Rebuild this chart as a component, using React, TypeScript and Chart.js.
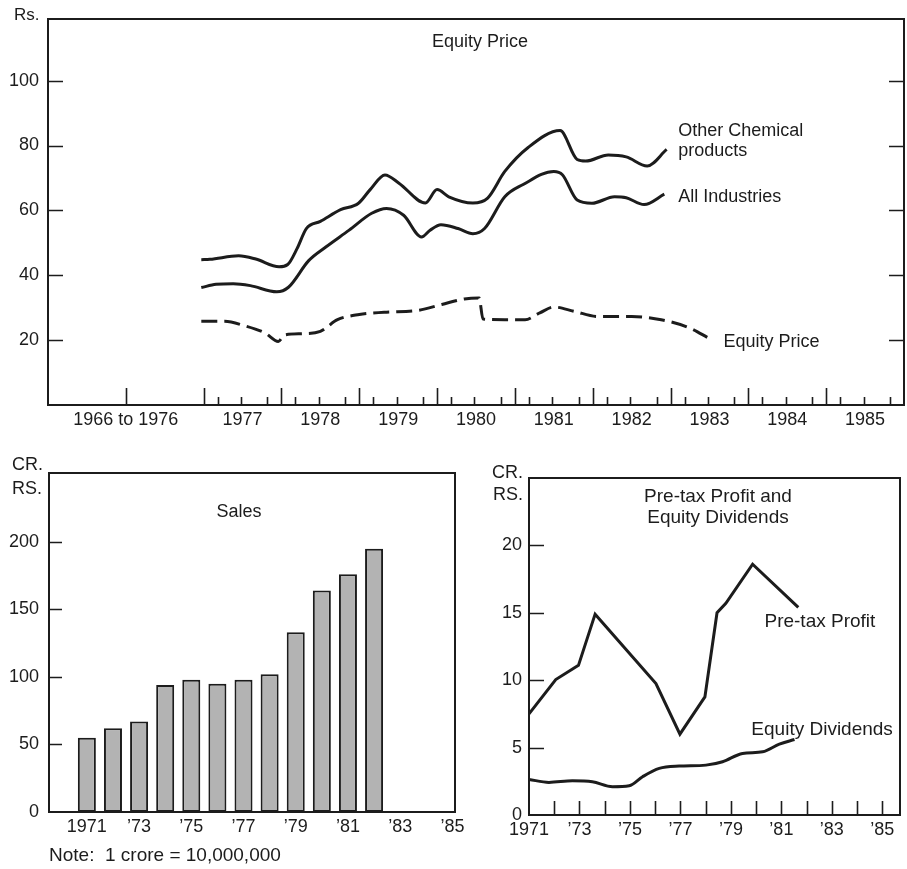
import React, { useEffect, useRef } from 'react';
import { Chart, registerables } from 'chart.js';

Chart.register(...registerables);

const FONT = "'Liberation Sans', Arial, Helvetica, sans-serif";
const INK = '#1c1c1c';

// ---------- Top chart: Equity Price (x in fractional years) ----------
const otherChemT = [1976.97, 1977.08, 1977.45, 1977.67, 1977.97, 1978.08, 1978.2, 1978.32, 1978.5, 1978.76, 1978.99, 1979.14, 1979.33, 1979.51, 1979.85, 1980.0, 1980.15, 1980.46, 1980.65, 1980.87, 1981.17, 1981.58, 1981.8, 1981.91, 1982.2, 1982.43, 1982.7, 1982.95];
const otherChemV = [44.8, 44.9, 46.0, 45.0, 42.6, 43.3, 48.2, 54.4, 56.6, 60.2, 62.2, 66.4, 70.9, 68.4, 62.3, 66.4, 64.2, 62.3, 63.8, 72.0, 79.4, 84.6, 75.7, 75.2, 77.1, 76.5, 73.7, 78.8];
const allIndT = [1976.97, 1977.16, 1977.38, 1977.6, 1977.94, 1978.09, 1978.35, 1978.57, 1978.87, 1979.16, 1979.35, 1979.57, 1979.8, 1979.91, 1980.05, 1980.27, 1980.46, 1980.61, 1980.87, 1981.1, 1981.5, 1981.61, 1981.8, 1981.99, 1982.28, 1982.43, 1982.66, 1982.92];
const allIndV = [36.2, 37.2, 37.4, 36.8, 34.9, 36.3, 44.5, 48.7, 53.9, 59.1, 60.6, 58.5, 51.8, 53.9, 55.6, 54.4, 52.8, 54.4, 64.2, 67.9, 72.0, 71.0, 63.2, 62.2, 64.2, 63.9, 61.8, 65.0];
const eqPriceT = [1976.97, 1977.27, 1977.53, 1977.79, 1977.96, 1978.04, 1978.27, 1978.5, 1978.72, 1979.0, 1979.32, 1979.76, 1980.06, 1980.35, 1980.54, 1980.59, 1980.87, 1981.13, 1981.32, 1981.5, 1981.76, 1982.06, 1982.5, 1982.88, 1983.25, 1983.49];
const eqPriceV = [25.8, 25.8, 24.4, 22.2, 19.6, 21.6, 22.0, 22.7, 26.3, 27.9, 28.6, 29.2, 31.0, 32.7, 33.0, 26.5, 26.3, 26.3, 28.4, 30.2, 28.9, 27.3, 27.3, 26.3, 23.7, 20.6];
const topXTickValues = [1976, 1977.5, 1978.5, 1979.5, 1980.5, 1981.5, 1982.5, 1983.5, 1984.5, 1985.5];
const topXTickLabels = ['1966 to 1976', '1977', '1978', '1979', '1980', '1981', '1982', '1983', '1984', '1985'];
const topYTicks = [20, 40, 60, 80, 100];
const topMajorTicks = [1976, 1977, 1978, 1979, 1980, 1981, 1982, 1983, 1984, 1985];
const topMinorOffsets = [0.18, 0.48, 0.82];

// ---------- Bottom-left: Sales ----------
const salesYears = [1971, 1972, 1973, 1974, 1975, 1976, 1977, 1978, 1979, 1980, 1981, 1982];
const salesValues = [55, 62, 67, 94, 98, 95, 98, 102, 133, 164, 176, 195];
const bottomXTickValues = [1971, 1973, 1975, 1977, 1979, 1981, 1983, 1985];
const bottomXTickLabels = ['1971', '\u201973', '\u201975', '\u201977', '\u201979', '\u201981', '\u201983', '\u201985'];
const salesYTicks = [0, 50, 100, 150, 200];

// ---------- Bottom-right: Pre-tax Profit and Equity Dividends ----------
const profitT = [1971.0, 1972.06, 1972.96, 1973.62, 1976.03, 1976.98, 1977.97, 1978.45, 1978.8, 1979.86, 1981.67];
const profitV = [7.5, 10.05, 11.1, 14.9, 9.75, 6.0, 8.76, 15.0, 15.7, 18.6, 15.4];
const dividT = [1971.0, 1971.79, 1972.72, 1973.51, 1974.31, 1974.97, 1975.5, 1976.16, 1976.95, 1978.01, 1978.67, 1979.46, 1980.26, 1980.92, 1981.52];
const dividV = [2.64, 2.42, 2.54, 2.47, 2.1, 2.17, 2.84, 3.46, 3.63, 3.7, 3.95, 4.57, 4.69, 5.26, 5.6];
const profitYTicks = [0, 5, 10, 15, 20];
const profitXMarks = [1972, 1973, 1974, 1975, 1976, 1977, 1978, 1979, 1980, 1981, 1982, 1983, 1984, 1985];

const zip = (xs: number[], ys: number[]) => xs.map((x, i) => ({ x, y: ys[i] }));
const font = (size: number) => ({ family: FONT, size, weight: 'normal' as const, lineHeight: 1.2 });

type TextItem = { text: string; x: number; y: number; align?: CanvasTextAlign; size?: number; data?: boolean };

function decorPlugin(opts: {
  yTicks: number[]; yLen: number; rightTicks?: boolean;
  xMarks: { v: number; len: number }[];
  texts: TextItem[];
}) {
  return {
    id: 'decor',
    afterDraw(chart: any) {
      const { ctx, chartArea: a, scales } = chart;
      const xs = scales.x, ys = scales.y;
      ctx.save();
      ctx.strokeStyle = INK;
      ctx.lineWidth = 2;
      ctx.strokeRect(a.left, a.top, a.right - a.left, a.bottom - a.top);
      ctx.lineWidth = 1.6;
      ctx.beginPath();
      for (const v of opts.yTicks) {
        const py = Math.round(ys.getPixelForValue(v)) + 0.5;
        ctx.moveTo(a.left, py); ctx.lineTo(a.left + opts.yLen, py);
        if (opts.rightTicks) { ctx.moveTo(a.right, py); ctx.lineTo(a.right - opts.yLen, py); }
      }
      for (const m of opts.xMarks) {
        const px = Math.round(xs.getPixelForValue(m.v)) + 0.5;
        ctx.moveTo(px, a.bottom); ctx.lineTo(px, a.bottom - m.len);
      }
      ctx.stroke();
      ctx.fillStyle = INK;
      ctx.textBaseline = 'middle';
      for (const t of opts.texts) {
        ctx.font = `${t.size ?? 18}px ${FONT}`;
        ctx.textAlign = t.align ?? 'left';
        const px = t.data ? xs.getPixelForValue(t.x) : t.x;
        const py = t.data ? ys.getPixelForValue(t.y) : t.y;
        ctx.fillText(t.text, px, py);
      }
      ctx.restore();
    },
  };
}

function xAxis(min: number, max: number, values: number[], labels: string[], height: number, size: number) {
  return {
    type: 'linear' as const, min, max, offset: false,
    grid: { display: false, drawTicks: false }, border: { display: false },
    afterBuildTicks: (s: any) => { s.ticks = values.map((value) => ({ value })); },
    afterFit: (s: any) => { s.height = height; s.paddingLeft = 0; s.paddingRight = 0; },
    ticks: {
      autoSkip: false, maxRotation: 0, minRotation: 0, padding: 4, color: INK, font: font(size),
      callback: (_v: any, i: number) => labels[i],
    },
  };
}

function yAxis(min: number, max: number, values: number[], width: number, pad: number, size: number) {
  return {
    type: 'linear' as const, min, max,
    grid: { display: false, drawTicks: false }, border: { display: false },
    afterBuildTicks: (s: any) => { s.ticks = values.map((value) => ({ value })); },
    afterFit: (s: any) => { s.width = width; s.paddingTop = 0; s.paddingBottom = 0; },
    ticks: { padding: pad, color: INK, font: font(size), callback: (v: any) => String(v) },
  };
}

const lineStyle = { borderColor: INK, borderWidth: 3, pointRadius: 0, fill: false, borderCapStyle: 'butt' as const };

function topConfig(): any {
  const marks: { v: number; len: number }[] = topMajorTicks.map((v) => ({ v, len: 17 }));
  topMajorTicks.slice(1).forEach((y) => topMinorOffsets.forEach((o) => marks.push({ v: y + o, len: 8 })));
  return {
    type: 'line',
    data: {
      datasets: [
        { ...lineStyle, data: zip(otherChemT, otherChemV), cubicInterpolationMode: 'monotone' },
        { ...lineStyle, data: zip(allIndT, allIndV), cubicInterpolationMode: 'monotone' },
        { ...lineStyle, data: zip(eqPriceT, eqPriceV), cubicInterpolationMode: 'monotone', borderDash: [16, 7] },
      ],
    },
    options: {
      responsive: false, animation: false, events: [],
      layout: { padding: { top: 19, right: 3, left: 0, bottom: 0 } },
      plugins: { legend: { display: false }, tooltip: { enabled: false } },
      scales: {
        x: xAxis(1975, 1986, topXTickValues, topXTickLabels, 35, 18),
        y: yAxis(0, 119, topYTicks, 48, 9, 18),
      },
    },
    plugins: [decorPlugin({
      yTicks: topYTicks, yLen: 15, rightTicks: true, xMarks: marks,
      texts: [
        { text: 'Rs.', x: 14, y: 15, size: 17 },
        { text: 'Equity Price', x: 480, y: 42, align: 'center' },
        { text: 'Other Chemical', x: 1983.1, y: 84.5, data: true },
        { text: 'products', x: 1983.1, y: 78.2, data: true },
        { text: 'All Industries', x: 1983.1, y: 64, data: true },
        { text: 'Equity Price', x: 1983.68, y: 19.4, data: true },
      ],
    })],
  };
}

function salesConfig(): any {
  return {
    type: 'bar',
    data: {
      datasets: [{
        data: zip(salesYears, salesValues),
        backgroundColor: '#b3b3b3', borderColor: INK, borderWidth: 2, borderSkipped: false,
        categoryPercentage: 1, barPercentage: 0.69,
      }],
    },
    options: {
      responsive: false, animation: false, events: [],
      layout: { padding: { top: 33, right: 25, left: 0, bottom: 0 } },
      plugins: { legend: { display: false }, tooltip: { enabled: false } },
      scales: {
        x: xAxis(1969.55, 1985.1, bottomXTickValues, bottomXTickLabels, 57, 18),
        y: yAxis(0, 251, salesYTicks, 49, 10, 18),
      },
    },
    plugins: [decorPlugin({
      yTicks: salesYTicks.slice(1), yLen: 13, xMarks: [],
      texts: [
        { text: 'CR.', x: 12, y: 25 },
        { text: 'RS.', x: 12, y: 49 },
        { text: 'Sales', x: 239, y: 72, align: 'center' },
        { text: 'Note:  1 crore = 10,000,000', x: 49, y: 416, size: 19 },
      ],
    })],
  };
}

function profitConfig(): any {
  return {
    type: 'line',
    data: {
      datasets: [
        { ...lineStyle, data: zip(profitT, profitV), tension: 0 },
        { ...lineStyle, data: zip(dividT, dividV), cubicInterpolationMode: 'monotone' },
      ],
    },
    options: {
      responsive: false, animation: false, events: [],
      layout: { padding: { top: 38, right: 7, left: 0, bottom: 0 } },
      plugins: { legend: { display: false }, tooltip: { enabled: false } },
      scales: {
        x: xAxis(1971, 1985.7, bottomXTickValues, bottomXTickLabels, 54, 18),
        y: yAxis(0, 25, profitYTicks, 69, 7, 18),
      },
    },
    plugins: [decorPlugin({
      yTicks: profitYTicks.slice(1), yLen: 15,
      xMarks: profitXMarks.map((v) => ({ v, len: 14 })),
      texts: [
        { text: 'CR.', x: 63, y: 33, align: 'right' },
        { text: 'RS.', x: 63, y: 55, align: 'right' },
        { text: 'Pre-tax Profit and', x: 258, y: 57, align: 'center', size: 19 },
        { text: 'Equity Dividends', x: 258, y: 78, align: 'center', size: 19 },
        { text: 'Pre-tax Profit', x: 1980.33, y: 14.3, data: true, size: 19 },
        { text: 'Equity Dividends', x: 1979.81, y: 6.3, data: true, size: 19 },
      ],
    })],
  };
}

function ChartBox(props: { make: () => any; left: number; top: number; width: number; height: number }) {
  const ref = useRef<HTMLCanvasElement>(null);
  useEffect(() => {
    const chart = new Chart(ref.current as HTMLCanvasElement, props.make());
    return () => chart.destroy();
  }, []);
  return (
    <canvas
      ref={ref}
      width={props.width}
      height={props.height}
      style={{ position: 'absolute', left: props.left, top: props.top, width: props.width, height: props.height }}
    />
  );
}

export default function App() {
  return (
    <div style={{ position: 'absolute', left: 0, top: 0, width: 907, height: 869, background: '#ffffff', overflow: 'hidden' }}>
      <ChartBox make={topConfig} left={0} top={0} width={907} height={440} />
      <ChartBox make={salesConfig} left={0} top={440} width={480} height={429} />
      <ChartBox make={profitConfig} left={460} top={440} width={447} height={429} />
    </div>
  );
}
